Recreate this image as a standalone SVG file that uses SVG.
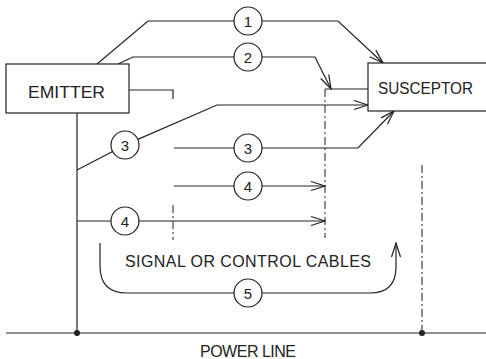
<svg xmlns="http://www.w3.org/2000/svg" width="486" height="359" viewBox="0 0 486 359">
<style>
.ln{fill:none;stroke:#222;stroke-width:1.2}
.ds{fill:none;stroke:#333;stroke-width:1.1;stroke-dasharray:8 3 2 3}
.bx{fill:#fff;stroke:#222;stroke-width:1.2}
.cr{fill:#fff;stroke:#222;stroke-width:1.2}
.t{font-family:"Liberation Sans",Arial,sans-serif;fill:#222}
.n{font-family:"Liberation Sans",Arial,sans-serif;fill:#222;font-size:15px;text-anchor:middle}
</style>
<defs>
<marker id="arr" markerUnits="userSpaceOnUse" markerWidth="16" markerHeight="12" viewBox="0 0 16 12" refX="15" refY="6" orient="auto">
<path d="M1,1.5 L15,6 L1,10.5" fill="none" stroke="#222" stroke-width="1.2"/>
</marker>
</defs>
<g id="connectors">
<!-- power line -->
<line class="ln" x1="6" y1="333" x2="486" y2="333"/>
<circle cx="77" cy="333" r="3" fill="#222"/>
<circle cx="422" cy="333" r="3" fill="#222"/>
<!-- emitter ground -->
<line class="ln" x1="77" y1="113" x2="77" y2="333"/>
<line class="ds" x1="422" y1="165" x2="422" y2="333"/>
<!-- emitter cable stub -->
<polyline class="ln" points="129,90 173,90 173,99"/>
<line class="ds" x1="173" y1="205" x2="173" y2="240"/>
<!-- susceptor cable -->
<line class="ds" x1="325" y1="89" x2="325" y2="238"/>
<line class="ln" x1="325" y1="89" x2="368" y2="89"/>
<!-- path 1 -->
<polyline class="ln" points="97,64 148,21 234,21"/>
<polyline class="ln" points="262,21 338,21 383,63" marker-end="url(#arr)"/>
<!-- path 2 -->
<polyline class="ln" points="118,64 133,57 234,57"/>
<polyline class="ln" points="262,57 315,57 331,89" marker-end="url(#arr)"/>
<!-- path 3 upper -->
<line class="ln" x1="77" y1="170" x2="112.6" y2="151.5"/>
<polyline class="ln" points="137.8,139.4 217,105 368,105" marker-end="url(#arr)"/>
<!-- path 3 lower -->
<line class="ln" x1="174" y1="148" x2="234" y2="148"/>
<polyline class="ln" points="262,148 358,148 394,111" marker-end="url(#arr)"/>
<!-- path 4 upper -->
<line class="ln" x1="174" y1="186" x2="234" y2="186"/>
<line class="ln" x1="262" y1="186" x2="325" y2="186" marker-end="url(#arr)"/>
<!-- path 4 lower -->
<line class="ln" x1="77" y1="221" x2="111" y2="221"/>
<line class="ln" x1="139" y1="221" x2="325" y2="221" marker-end="url(#arr)"/>
<!-- path 5 -->
<path class="ln" d="M100,243 V266 Q100,293 127,293 H234"/>
<path class="ln" d="M262,293 H370 Q396,293 396,267 V243" marker-end="url(#arr)"/>
</g>
<g id="emitter">
<rect class="bx" x="6" y="64" width="123" height="49"/>
<text class="t" x="28" y="98" font-size="17" textLength="77" lengthAdjust="spacingAndGlyphs">EMITTER</text>
</g>
<g id="susceptor">
<rect class="bx" x="368" y="63" width="130" height="48"/>
<text class="t" x="378" y="94" font-size="16" textLength="95" lengthAdjust="spacingAndGlyphs">SUSCEPTOR</text>
</g>
<g id="c1"><circle class="cr" cx="248" cy="21" r="14"/><text class="n" x="248" y="26.5">1</text></g>
<g id="c2"><circle class="cr" cx="248" cy="57" r="14"/><text class="n" x="248" y="62.5">2</text></g>
<g id="c3a"><circle class="cr" cx="125" cy="145" r="14"/><text class="n" x="125" y="150.5">3</text></g>
<g id="c3b"><circle class="cr" cx="248" cy="148" r="14"/><text class="n" x="248" y="153.5">3</text></g>
<g id="c4a"><circle class="cr" cx="248" cy="186" r="14"/><text class="n" x="248" y="191.5">4</text></g>
<g id="c4b"><circle class="cr" cx="125" cy="221" r="14"/><text class="n" x="125" y="226.5">4</text></g>
<g id="c5"><circle class="cr" cx="248" cy="293" r="14"/><text class="n" x="248" y="298.5">5</text></g>
<g id="labels">
<text class="t" x="125" y="267" font-size="16" textLength="246" lengthAdjust="spacing">SIGNAL OR CONTROL CABLES</text>
<text class="t" x="200" y="357" font-size="16" textLength="96" lengthAdjust="spacing">POWER LINE</text>
</g>
</svg>
